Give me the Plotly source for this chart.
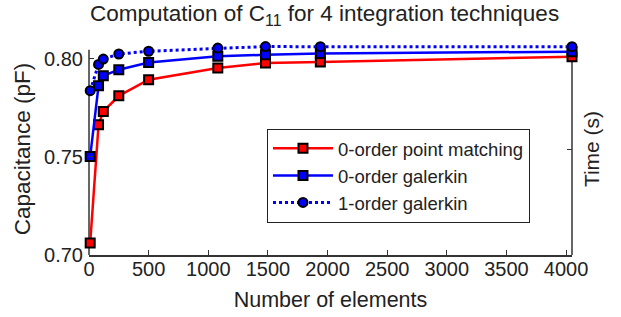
import plotly.graph_objects as go

elements = [10, 80, 120, 250, 500, 1080, 1480, 1940, 4050]
point_matching = [0.7061, 0.7663, 0.7731, 0.7811, 0.7893, 0.7953, 0.7978, 0.7983, 0.8010]
galerkin0 = [0.7502, 0.7862, 0.7913, 0.7944, 0.7981, 0.8012, 0.8020, 0.8026, 0.8036]
galerkin1 = [0.7837, 0.7971, 0.7998, 0.8024, 0.8038, 0.8054, 0.8062, 0.8061, 0.8061]
x_ticks = [0, 500, 1000, 1500, 2000, 2500, 3000, 3500, 4000]
y_ticks = [0.70, 0.75, 0.80]
y_tick_labels = ["0.70", "0.75", "0.80"]

FONT = "Liberation Sans, Arial, sans-serif"
AX = "#333333"
TXT = "#222222"
Y_MIN, Y_MAX = 0.70, 0.808
AXIS_TOP = 0.8046

fig = go.Figure()
fig.add_trace(go.Scatter(
    x=elements, y=point_matching, name="0-order point matching", mode="lines+markers",
    line=dict(color="#ff0000", width=2.5),
    marker=dict(symbol="square", size=9, color="#ff0000", line=dict(color="black", width=2)),
    cliponaxis=False))
fig.add_trace(go.Scatter(
    x=elements, y=galerkin0, name="0-order galerkin", mode="lines+markers",
    line=dict(color="#0000ff", width=2.5),
    marker=dict(symbol="square", size=9, color="#0000ff", line=dict(color="black", width=2)),
    cliponaxis=False))
fig.add_trace(go.Scatter(
    x=elements, y=galerkin1, name="1-order galerkin", mode="lines+markers",
    line=dict(color="#0000ff", width=3, dash="dot"),
    marker=dict(symbol="circle", size=9, color="#0000ff", line=dict(color="black", width=2)),
    cliponaxis=False))
fig.add_trace(go.Scatter(x=[0], y=[0], yaxis="y2", showlegend=False, hoverinfo="skip",
                         mode="markers", marker=dict(opacity=0)))

# plot area: 0.70 at y=255, 0.80 at y=59 -> 1960 px per unit
px_per_unit = 1960
top_px = 255 - (Y_MAX - Y_MIN) * px_per_unit
span = (Y_MAX - Y_MIN) * px_per_unit

fig.update_layout(
    width=621, height=317,
    margin=dict(l=89, r=49, t=top_px, b=62, autoexpand=False),
    paper_bgcolor="white", plot_bgcolor="white",
    font=dict(family=FONT, size=20, color=TXT),
    showlegend=True,
    legend=dict(x=0.3685, y=(255 - 129) / span,
                xanchor="left", yanchor="top",
                bgcolor="white", bordercolor=TXT, borderwidth=1,
                font=dict(size=18.5, family=FONT, color=TXT),
                itemwidth=60, tracegroupgap=0),
    xaxis=dict(range=[0, 4050], tickvals=x_ticks, ticks="inside", ticklen=5,
               tickcolor=AX, showline=True, linecolor=AX, linewidth=1.5,
               showgrid=False, zeroline=False, automargin=False,
               ticklabelstandoff=-5,
               tickfont=dict(size=20, family=FONT, color=TXT),
               title=dict(text="Number of elements", font=dict(size=21.5, family=FONT, color=TXT), standoff=13)),
    yaxis=dict(range=[Y_MIN, Y_MAX], tickvals=y_ticks, ticktext=y_tick_labels,
               ticks="inside", ticklen=5, tickcolor=AX, showline=False,
               showgrid=False, zeroline=False, automargin=False,
               ticklabelstandoff=5,
               tickfont=dict(size=20, family=FONT, color=TXT),
               title=dict(text="Capacitance (pF)", font=dict(size=22.5, family=FONT, color=TXT), standoff=7)),
    yaxis2=dict(overlaying="y", side="right", range=[0, 1], tickvals=[0.5],
                showticklabels=False, ticks="inside", ticklen=5, tickcolor=AX,
                showline=False, showgrid=False, zeroline=False, automargin=False,
                title=dict(text="Time (s)", font=dict(size=21, family=FONT, color=TXT), standoff=12)),
)

# axis lines (left and right) ending slightly below the top of the plot box, as in the reference
for xp in (0, 1):
    fig.add_shape(type="line", xref="paper", yref="y", x0=xp, x1=xp, y0=Y_MIN, y1=AXIS_TOP,
                  line=dict(color=AX, width=1.5), layer="below")

fig.add_annotation(
    text="Computation of C<sub>11</sub> for 4 integration techniques",
    xref="paper", yref="paper", x=0.487, y=(255 - 15) / span,
    xanchor="center", yanchor="middle", showarrow=False,
    font=dict(size=22.5, family=FONT, color=TXT))

fig.write_html("out.html", config={"displayModeBar": False},
               post_script="document.body.style.margin='0';")
